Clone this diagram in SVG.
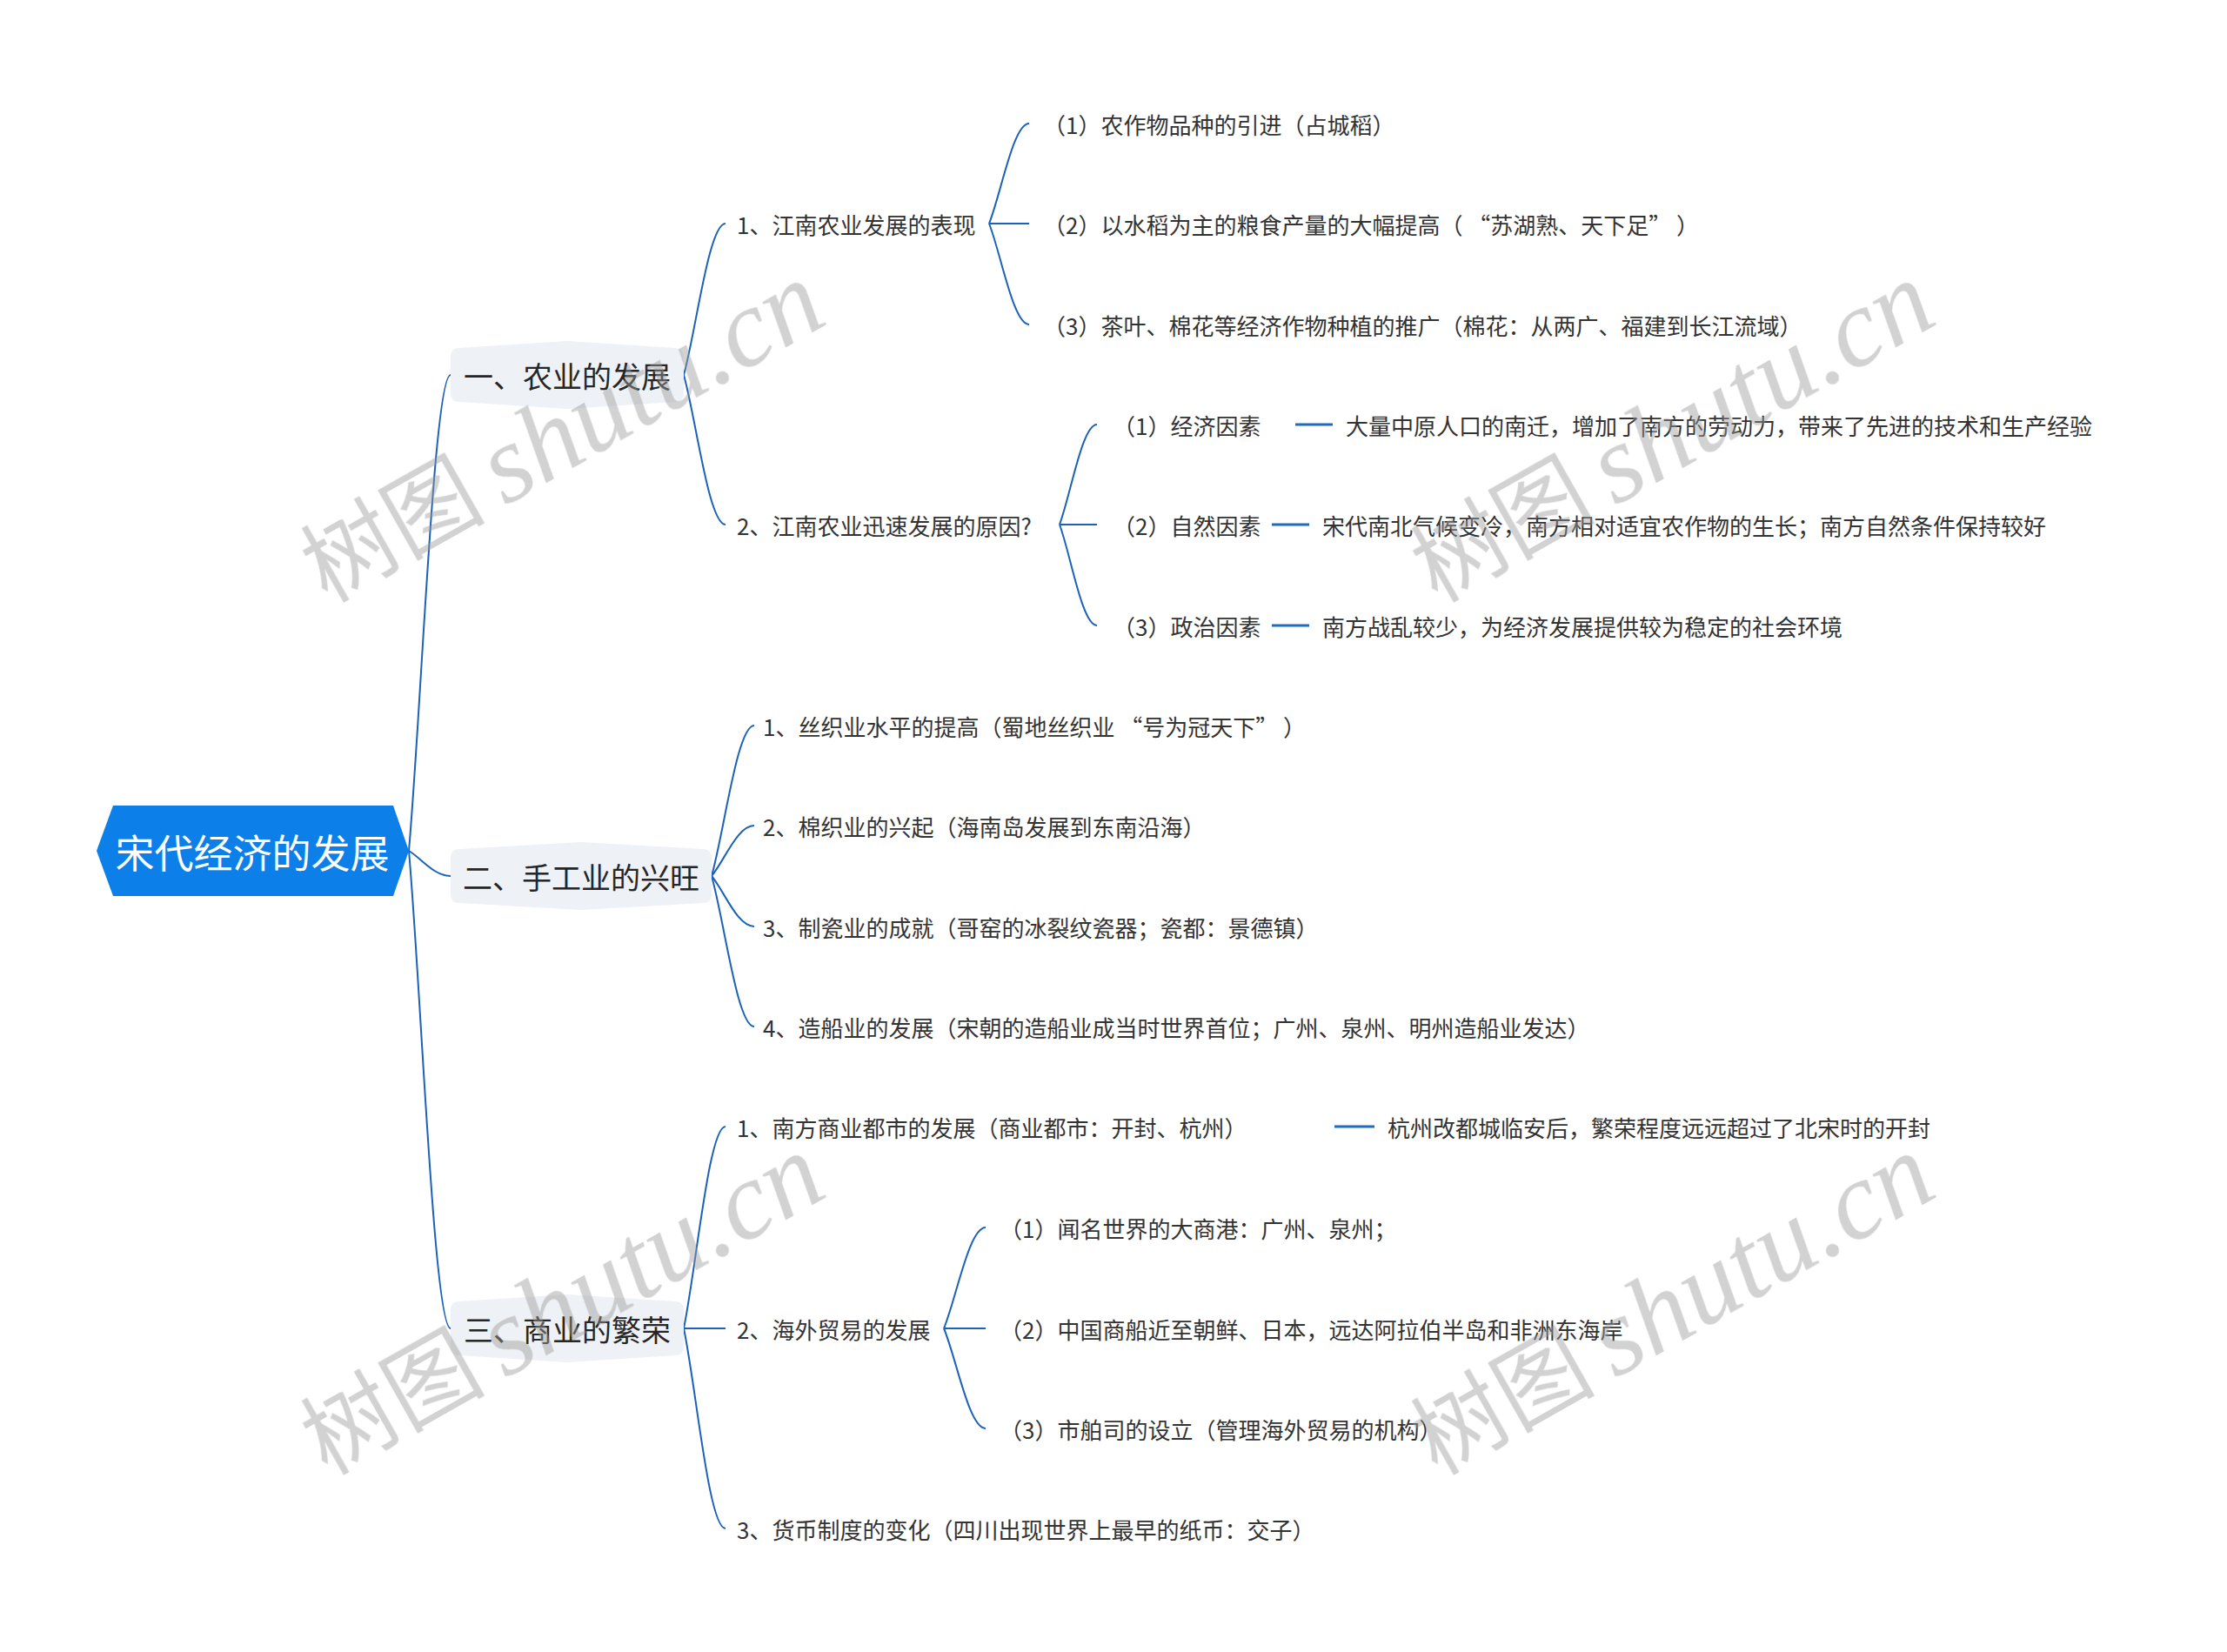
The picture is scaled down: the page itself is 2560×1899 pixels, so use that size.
<svg xmlns="http://www.w3.org/2000/svg" width="2560" height="1899" viewBox="0 0 2560 1899">
<style>
text { font-family: "Noto Sans CJK SC", "Noto Sans", sans-serif; fill: #333333; dominant-baseline: central; }
.root { font-size: 45px; fill: #ffffff; text-anchor: middle; }
.l1 { font-size: 34px; text-anchor: middle; fill: #262626; }
.t { font-size: 26px; }
.box { fill: #eef1f5; }
.conn { fill: none; stroke: #1b62b8; stroke-width: 2; }
.short { fill: none; stroke: #1f6bbd; stroke-width: 3; }
.wm text { fill: #9a9a9a; dominant-baseline: alphabetic; }
.wm .cj { font-family: "Noto Sans CJK SC", sans-serif; font-size: 106px; font-weight: 400; }
.wm .lt { font-family: "Liberation Serif", serif; font-style: italic; font-size: 128px; }
</style>
<rect width="2560" height="1899" fill="#ffffff"/>

<g id="connectors">
  <path class="conn" d="M470 978 C484.4 813.9 498.8 431 518 431"/>
  <path class="conn" d="M470 978 C484.4 986.7 498.8 1007 518 1007"/>
  <path class="conn" d="M470 978 C484.4 1142.7 498.8 1527 518 1527"/>

  <path class="conn" d="M786 431 C800.4 378.8 814.8 257 834 257"/>
  <path class="conn" d="M786 431 C800.4 482.9 814.8 603 834 603"/>

  <path class="conn" d="M1137 257 C1150.8 222.5 1164.6 142 1183 142"/>
  <path class="conn" d="M1137 257 H1183"/>
  <path class="conn" d="M1137 257 C1150.8 291.8 1164.6 373 1183 373"/>

  <path class="conn" d="M1218 603 C1230.9 568.5 1243.8 488 1261 488"/>
  <path class="conn" d="M1218 603 H1261"/>
  <path class="conn" d="M1218 603 C1230.9 637.8 1243.8 719 1261 719"/>

  <path class="short" d="M1489 488 H1532"/>
  <path class="short" d="M1462 603 H1505"/>
  <path class="short" d="M1462 719 H1505"/>

  <path class="conn" d="M818 1007 C832.7 955.1 847.4 834 867 834"/>
  <path class="conn" d="M818 1007 C832.7 989.6 847.4 949 867 949"/>
  <path class="conn" d="M818 1007 C832.7 1024.4 847.4 1065 867 1065"/>
  <path class="conn" d="M818 1007 C832.7 1058.9 847.4 1180 867 1180"/>

  <path class="conn" d="M786 1527 C800.4 1457.4 814.8 1295 834 1295"/>
  <path class="conn" d="M786 1527 H834"/>
  <path class="conn" d="M786 1527 C800.4 1596 814.8 1757 834 1757"/>

  <path class="short" d="M1534 1295 H1580"/>

  <path class="conn" d="M1085 1527 C1099.4 1492.2 1113.8 1411 1133 1411"/>
  <path class="conn" d="M1085 1527 H1133"/>
  <path class="conn" d="M1085 1527 C1099.4 1561.5 1113.8 1642 1133 1642"/>
</g>

<g id="root">
  <polygon points="111,978 130,926 452,926 470,978 452,1030 130,1030" fill="#0c80e8"/>
  <text class="root" x="290" y="978">宋代经济的发展</text>
</g>

<g id="n1">
  <path class="box" d="M528 400 L652 392 L776 400 Q786 400 786 410 L786 452 Q786 462 776 462 L652 470 L528 462 Q518 462 518 452 L518 410 Q518 400 528 400 Z"/>
  <text class="l1" x="652" y="431">一、农业的发展</text>
</g>
<g id="n2">
  <path class="box" d="M528 976 L668 968 L808 976 Q818 976 818 986 L818 1028 Q818 1038 808 1038 L668 1046 L528 1038 Q518 1038 518 1028 L518 986 Q518 976 528 976 Z"/>
  <text class="l1" x="668" y="1007">二、手工业的兴旺</text>
</g>
<g id="n3">
  <path class="box" d="M528 1496 L652 1488 L776 1496 Q786 1496 786 1506 L786 1548 Q786 1558 776 1558 L652 1566 L528 1558 Q518 1558 518 1548 L518 1506 Q518 1496 528 1496 Z"/>
  <text class="l1" x="652" y="1527">三、商业的繁荣</text>
</g>

<g id="n1-1"><text class="t" x="847" y="257">1、江南农业发展的表现</text></g>
<g id="n1-1-1"><text class="t" x="1199" y="142">（1）农作物品种的引进（占城稻）</text></g>
<g id="n1-1-2"><text class="t" x="1199" y="257" xml:space="preserve">（2）以水稻为主的粮食产量的大幅提高（ “苏湖熟、天下足” ）</text></g>
<g id="n1-1-3"><text class="t" x="1199" y="373">（3）茶叶、棉花等经济作物种植的推广（棉花：从两广、福建到长江流域）</text></g>

<g id="n1-2"><text class="t" x="847" y="603">2、江南农业迅速发展的原因?</text></g>
<g id="n1-2-1"><text class="t" x="1279" y="488">（1）经济因素</text></g>
<g id="n1-2-1-1"><text class="t" x="1547" y="488">大量中原人口的南迁，增加了南方的劳动力，带来了先进的技术和生产经验</text></g>
<g id="n1-2-2"><text class="t" x="1279" y="603">（2）自然因素</text></g>
<g id="n1-2-2-1"><text class="t" x="1520" y="603">宋代南北气候变冷，南方相对适宜农作物的生长；南方自然条件保持较好</text></g>
<g id="n1-2-3"><text class="t" x="1279" y="719">（3）政治因素</text></g>
<g id="n1-2-3-1"><text class="t" x="1520" y="719">南方战乱较少，为经济发展提供较为稳定的社会环境</text></g>

<g id="n2-1"><text class="t" x="877" y="834" xml:space="preserve">1、丝织业水平的提高（蜀地丝织业 “号为冠天下” ）</text></g>
<g id="n2-2"><text class="t" x="877" y="949">2、棉织业的兴起（海南岛发展到东南沿海）</text></g>
<g id="n2-3"><text class="t" x="877" y="1065">3、制瓷业的成就（哥窑的冰裂纹瓷器；瓷都：景德镇）</text></g>
<g id="n2-4"><text class="t" x="877" y="1180">4、造船业的发展（宋朝的造船业成当时世界首位；广州、泉州、明州造船业发达）</text></g>

<g id="n3-1"><text class="t" x="847" y="1295">1、南方商业都市的发展（商业都市：开封、杭州）</text></g>
<g id="n3-1-1"><text class="t" x="1595" y="1295">杭州改都城临安后，繁荣程度远远超过了北宋时的开封</text></g>
<g id="n3-2"><text class="t" x="847" y="1527">2、海外贸易的发展</text></g>
<g id="n3-2-1"><text class="t" x="1149" y="1411">（1）闻名世界的大商港：广州、泉州；</text></g>
<g id="n3-2-2"><text class="t" x="1149" y="1527">（2）中国商船近至朝鲜、日本，远达阿拉伯半岛和非洲东海岸</text></g>
<g id="n3-2-3"><text class="t" x="1149" y="1642">（3）市舶司的设立（管理海外贸易的机构）</text></g>
<g id="n3-3"><text class="t" x="847" y="1757">3、货币制度的变化（四川出现世界上最早的纸币：交子）</text></g>

<g class="wm" id="watermarks" opacity="0.45">
  <g transform="translate(349,697) rotate(-29.5)"><text class="cj" x="25" y="10">树图</text><text class="lt" x="258" y="14">shutu.cn</text></g>
  <g transform="translate(1625,697) rotate(-29.5)"><text class="cj" x="25" y="10">树图</text><text class="lt" x="258" y="14">shutu.cn</text></g>
  <g transform="translate(349,1700) rotate(-29.5)"><text class="cj" x="25" y="10">树图</text><text class="lt" x="258" y="14">shutu.cn</text></g>
  <g transform="translate(1625,1700) rotate(-29.5)"><text class="cj" x="25" y="10">树图</text><text class="lt" x="258" y="14">shutu.cn</text></g>
</g>
</svg>
